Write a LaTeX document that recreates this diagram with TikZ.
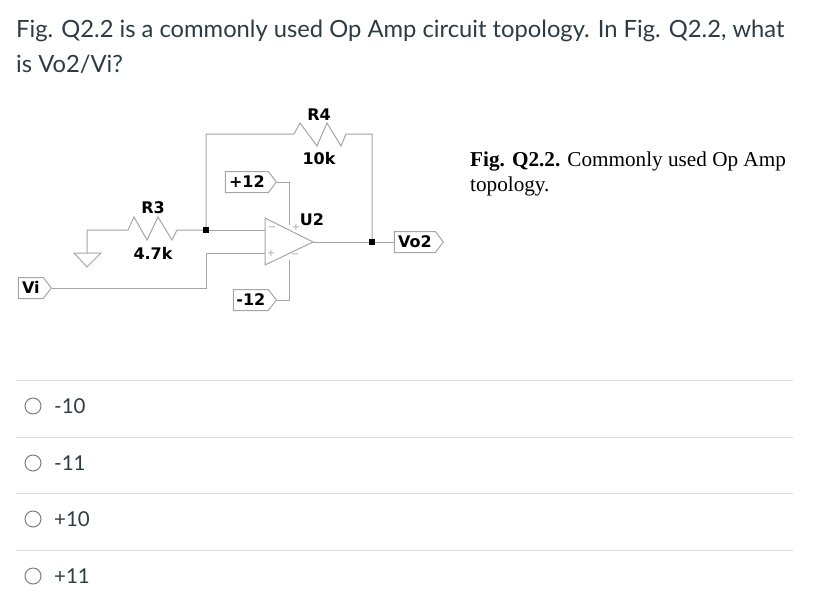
\documentclass[tikz,border=0pt]{standalone}
\usepackage{fontspec}
\setmainfont{Lato}
\newfontfamily\spicefont{DejaVu Sans}
\newfontfamily\capfont{Liberation Serif}
\usetikzlibrary{shapes.symbols}
\definecolor{wiregray}{RGB}{165,165,165}
\definecolor{inkgray}{RGB}{45,59,69}
\definecolor{rulegray}{RGB}{221,221,221}
\definecolor{radiogray}{RGB}{125,125,125}
\tikzset{
  wire/.style={draw=wiregray,line width=1pt,line join=miter},
  dot/.style={fill=black,inner sep=0pt,minimum size=6pt,rectangle},
  flag/.style={signal,signal to=east,signal pointer angle=105,draw=wiregray,line width=1pt,
    anchor=east,inner xsep=1pt,inner ysep=0pt,minimum height=21pt,text=black,
    text height=11pt,text depth=0pt,
    font=\spicefont\fontsize{16}{16}\selectfont\bfseries},
  partlabel/.style={text=black,inner sep=0pt,font=\spicefont\fontsize{16}{16}\selectfont\bfseries},
  pinlabel/.style={text=wiregray,inner sep=0pt,font=\spicefont\fontsize{10}{10}\selectfont},
  title/.style={anchor=base west,inner sep=0pt,text=inkgray,font=\fontsize{23.75}{28}\selectfont},
  caption/.style={anchor=base west,inner sep=0pt,text=black,font=\capfont\fontsize{21.2}{24}\selectfont},
  answer/.style={anchor=base west,inner sep=0pt,text=inkgray,font=\fontsize{20.5}{24}\selectfont},
  radio/.style={circle,draw=radiogray,line width=1pt,fill=white,minimum size=16pt,inner sep=0pt},
}
\begin{document}
\begin{tikzpicture}[x=1pt,y=-1pt]
    \useasboundingbox (0,0) rectangle (818,611);
    \node[title] (line1) at (16,37) {Fig. Q2.2 is a commonly used Op Amp circuit topology. In Fig. Q2.2, what};
    \node[title] (line2) at (16,72.5) {is Vo2/Vi?};
    \node[caption] (cap1) at (470,166.5) {\textbf{Fig. Q2.2.} Commonly used Op Amp};
    \node[caption] (cap2) at (470,191.5) {topology.};
    % op amp corners and pins
    \coordinate (ampneg) at (265,230);
    \coordinate (amppos) at (265,253);
    \coordinate (amptop) at (265,218);
    \coordinate (ampbot) at (265,265);
    \coordinate (ampout) at (313,242);
    \coordinate (pwrtop) at (289,225);
    \coordinate (pwrbot) at (289,260);
    \coordinate (gndtop) at (87,253);
    \coordinate (r3left) at (125,230);
    \coordinate (r4left) at (291,134);
    \node[dot] (nodeneg) at (206,230) {};
    \node[dot] (nodeout) at (372,242) {};
    \node[flag,minimum width=33pt] (vi) at (52,288) {Vi};
    \node[flag,minimum width=51pt] (vpos) at (277,182) {+12};
    \node[flag,minimum width=43pt] (vneg) at (277,300) {-12};
    \node[flag,minimum width=49pt] (vo) at (444,242) {Vo2};
    % resistors
    \draw[wire] (gndtop) |- (r3left) -- ++(3,0) -- ++(6,-13) -- ++(13,23) -- ++(11,-23)
        -- ++(14,23) -- ++(5,-10) -- (nodeneg);
    \draw[wire] (nodeneg) |- (r4left) -- ++(3,0) -- ++(6,-11) -- ++(17,23) -- ++(10,-23)
        -- ++(14,23) -- ++(5,-12) -- (372,134) -- (nodeout);
    % ground
    \draw[wire] (74,253) -- (101,253) -- (87,267) -- cycle;
    % op amp
    \draw[wire] (amptop) -- (ampout) -- (ampbot) -- cycle;
    \draw[wire] (nodeneg) -- (ampneg);
    \draw[wire] (vi.east) -| (206,253) -- (amppos);
    \draw[wire] (ampout) -- (nodeout) -- (vo.west);
    \draw[wire] (vpos.east) -| (pwrtop);
    \draw[wire] (vneg.east) -| (pwrbot);
    \node[pinlabel] (pinneg) at (272,229) {−};
    \node[pinlabel] (pinpos) at (271,253) {+};
    \node[pinlabel] (pintop) at (296,227) {+};
    \node[pinlabel] (pinbot) at (295,256) {−};
    \node[partlabel] (r4name) at (319,114.5) {R4};
    \node[partlabel] (r4val) at (319,158.5) {10k};
    \node[partlabel] (r3name) at (153,208) {R3};
    \node[partlabel] (r3val) at (153,253.5) {4.7k};
    \node[partlabel] (u2name) at (312,219.5) {U2};
    % answers
    \foreach \y in {380,437,493,550}
        {\draw[rulegray,line width=1pt] (16,\y) -- (793,\y);}
    \foreach \y/\t/\n in {406/-10/a,463/-11/b,519/+10/c,576/+11/d}
        {\node[radio] (radio\n) at (33,\y) {};
         \node[answer] (ans\n) at (54,\y+7) {\t};}
\end{tikzpicture}
\end{document}
